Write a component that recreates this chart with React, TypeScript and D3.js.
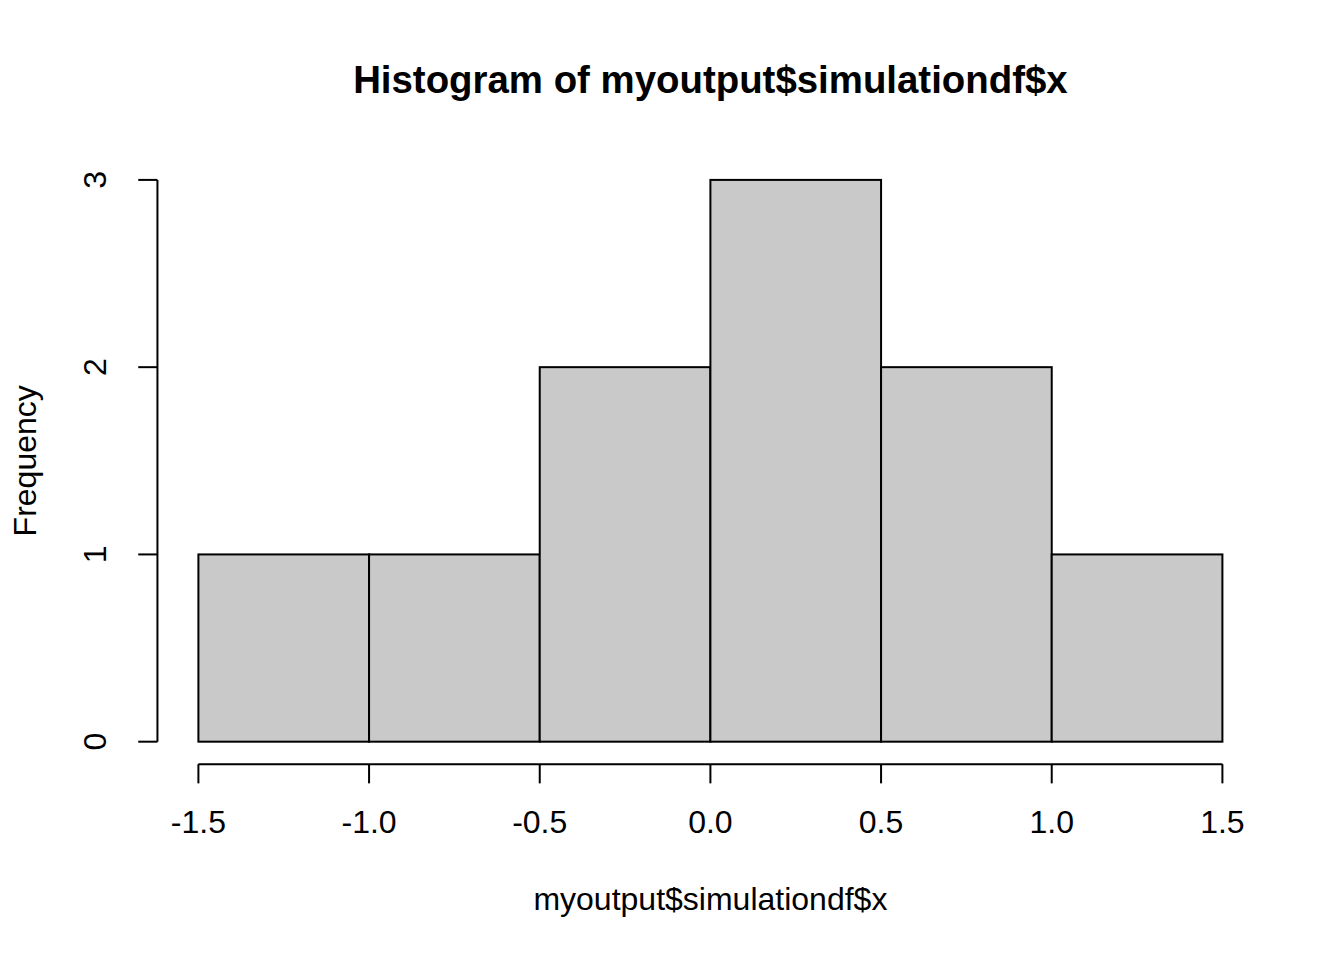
import React from "react";
import * as d3 from "d3";

const binEdges = [-1.5, -1.0, -0.5, 0.0, 0.5, 1.0, 1.5];
const counts = [1, 1, 2, 3, 2, 1];
const xTicks = [-1.5, -1.0, -0.5, 0.0, 0.5, 1.0, 1.5];
const yTicks = [0, 1, 2, 3];
const title = "Histogram of myoutput$simulationdf$x";
const xLabel = "myoutput$simulationdf$x";
const yLabel = "Frequency";

const W = 1344;
const H = 960;
const LINE = 38.4;
const plotLeft = 4.1 * LINE;
const plotRight = W - 2.1 * LINE;
const plotTop = 4.1 * LINE;
const plotBottom = H - 5.1 * LINE;
const FONT = "'Liberation Sans', Arial, Helvetica, sans-serif";

export default function App() {
  const xMin = d3.min(binEdges)!;
  const xMax = d3.max(binEdges)!;
  const xExt = (xMax - xMin) * 0.04;
  const yMax = d3.max(counts)!;
  const yExt = yMax * 0.04;
  const x = d3.scaleLinear().domain([xMin - xExt, xMax + xExt]).range([plotLeft, plotRight]);
  const y = d3.scaleLinear().domain([0 - yExt, yMax + yExt]).range([plotBottom, plotTop]);
  const tick = 0.5 * LINE;
  const fmt = (v: number) => d3.format(".1f")(v).replace("\u2212", "-");

  return (
    <svg
      width={W}
      height={H}
      style={{ position: "absolute", left: 0, top: 0, background: "#fff" }}
      fontFamily={FONT}
    >
      <rect x={0} y={0} width={W} height={H} fill="#fff" />
      {counts.map((c, i) => (
        <rect
          key={i}
          x={x(binEdges[i])}
          y={y(c)}
          width={x(binEdges[i + 1]) - x(binEdges[i])}
          height={y(0) - y(c)}
          fill="#c9c9c9"
          stroke="#000"
          strokeWidth={2}
        />
      ))}
      {/* x axis */}
      <g stroke="#000" strokeWidth={2} fill="none">
        <line x1={x(xTicks[0])} x2={x(xTicks[xTicks.length - 1])} y1={plotBottom} y2={plotBottom} />
        {xTicks.map((t) => (
          <line key={t} x1={x(t)} x2={x(t)} y1={plotBottom} y2={plotBottom + tick} />
        ))}
      </g>
      {xTicks.map((t) => (
        <text key={t} x={x(t)} y={833} fontSize={32} textAnchor="middle" fill="#000">
          {fmt(t)}
        </text>
      ))}
      {/* y axis */}
      <g stroke="#000" strokeWidth={2} fill="none">
        <line x1={plotLeft} x2={plotLeft} y1={y(yTicks[0])} y2={y(yTicks[yTicks.length - 1])} />
        {yTicks.map((t) => (
          <line key={t} x1={plotLeft} x2={plotLeft - tick} y1={y(t)} y2={y(t)} />
        ))}
      </g>
      {yTicks.map((t) => (
        <text
          key={t}
          transform={`translate(106,${y(t)}) rotate(-90)`}
          fontSize={32}
          textAnchor="middle"
          fill="#000"
        >
          {String(t)}
        </text>
      ))}
      <text
        x={(plotLeft + plotRight) / 2}
        y={93}
        fontSize={38.4}
        fontWeight="bold"
        textAnchor="middle"
        fill="#000"
      >
        {title}
      </text>
      <text x={(plotLeft + plotRight) / 2} y={910} fontSize={32} textAnchor="middle" fill="#000">
        {xLabel}
      </text>
      <text
        transform={`translate(36,${(plotTop + plotBottom) / 2}) rotate(-90)`}
        fontSize={32}
        textAnchor="middle"
        fill="#000"
      >
        {yLabel}
      </text>
    </svg>
  );
}
